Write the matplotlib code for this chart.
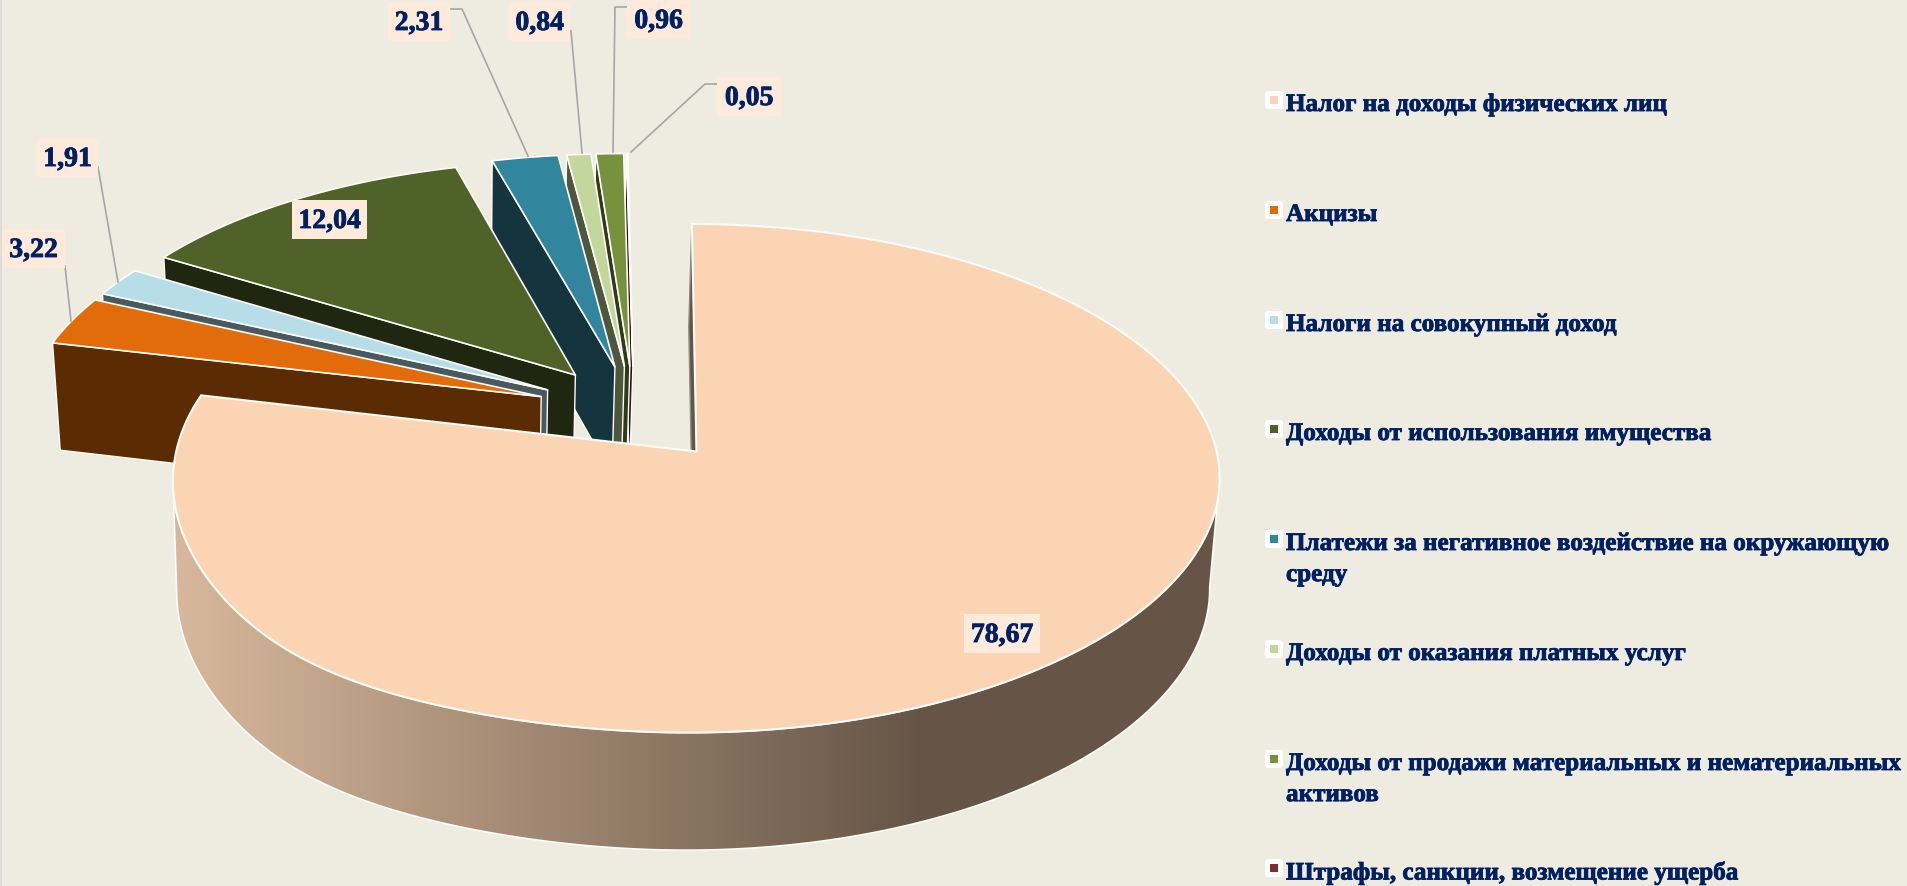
import numpy as np
import matplotlib
matplotlib.use('Agg')
import matplotlib.pyplot as plt
import matplotlib.patheffects as pe
from matplotlib.colors import to_rgb
from matplotlib.patches import Polygon, Rectangle, FancyBboxPatch

categories = [
    'Налог на доходы физических лиц',
    'Акцизы',
    'Налоги на совокупный доход',
    'Доходы от использования имущества',
    'Платежи за негативное воздействие на окружающую\nсреду',
    'Доходы от оказания платных услуг',
    'Доходы от продажи материальных и нематериальных\nактивов',
    'Штрафы, санкции, возмещение ущерба',
]
values = [78.67, 3.22, 1.91, 12.04, 2.31, 0.84, 0.96, 0.05]
value_labels = ['78,67', '3,22', '1,91', '12,04', '2,31', '0,84', '0,96', '0,05']
colors = ['#FBD4B4', '#E36C0A', '#B7DEE8', '#4F6228', '#31859C', '#C3D69B', '#76923C', '#7F2F2B']

# label boxes (left, top, right, bottom in pixels) and leader lines
label_boxes = [(964, 615, 1040, 654), (2, 230, 65, 269), (37, 139, 98, 178), (292, 201, 367, 240),
               (388, 3, 450, 42), (509, 3, 570, 42), (627, 1, 690, 40), (717, 78, 781, 117)]
leaders = [
    [(65, 267), (71, 322)],
    [(98, 168), (118, 283)],
    [(450, 10), (462, 10), (528, 157)],
    [(571, 32), (582, 154)],
    [(627, 8), (615, 8), (613, 153)],
    [(717, 85), (705, 85), (631, 153)],
]
legend_y = [101, 211, 321, 430, 540, 650, 760, 869]

# perspective of the pie plane, in pixels
CX, CY = 634.0, 415.6
A, B = 512.0, 243.7
K = 0.104
EXPLODE = 0.19
DEPTH0, DEPTH1 = 38.2, 68.1
BOTTOM_PIVOT = 456.0
NAVY = '#002060'
BG = '#EEEBE0'
EDGE = '#FDFCF8'


def project(theta, r, offset, bottom=False, small=True):
    # theta clockwise from 12 o'clock, r in pie radii
    x = offset[0] + r * np.sin(theta)
    y = offset[1] + r * np.cos(theta)
    den = 1 + K * y
    sx = CX + A * x / den
    sy = CY - B * y / den
    if small:
        sx = CX + (sx - CX) * 1.012 - 5.0 * y
        sy = sy - 3.0
    else:
        # the front of the big slice bulges to the lower left in the picture
        bulge = 10 + 26 * np.exp(-((x + 0.55) / 0.35) ** 2)
        sx = sx + 1.5 + 1.0 * y - bulge * np.where(y < 0, y, 0) ** 2
    if bottom:
        scale = 0.981 if small else 0.987
        sx = BOTTOM_PIVOT + (sx - BOTTOM_PIVOT) * scale
        sy = sy + DEPTH0 + DEPTH1 / den + (3.0 if small else 2.0)
    return np.column_stack([sx, sy])


def darker(color, f=0.4):
    return tuple(c * f for c in to_rgb(color))


fig = plt.figure(figsize=(19.07, 8.87), dpi=100, facecolor=BG)
ax = fig.add_axes([0, 0, 1, 1])
ax.set_xlim(0, 1907)
ax.set_ylim(887, 0)
ax.axis('off')
ax.add_patch(Rectangle((0, 0), 2, 887, fc='#DDDCD6', ec='none', zorder=0))

edges = np.radians(np.cumsum([0] + values) * 3.6)
mids = (edges[:-1] + edges[1:]) / 2
offsets = [(EXPLODE * np.sin(m), EXPLODE * np.cos(m)) for m in mids]
apex = np.array([0.0])

z = 2
# back slices first, the big one is on top of everything
for i in range(len(values) - 1, 0, -1):
    off = offsets[i]
    t0 = np.array([edges[i]])
    wall = np.vstack([project(apex, 0, off), project(t0, 1, off),
                      project(t0, 1, off, True), project(apex, 0, off, True)])
    ax.add_patch(Polygon(wall, fc=darker(colors[i]), ec=EDGE, lw=1.0, zorder=z, joinstyle='round'))
    z += 1
    arc = project(np.linspace(edges[i], edges[i + 1], 40), 1, off)
    top = np.vstack([project(apex, 0, off), arc])
    ax.add_patch(Polygon(top, fc=colors[i], ec=EDGE, lw=1.2, zorder=z, joinstyle='round'))
    z += 1

# big slice
off = offsets[0]
t = np.linspace(edges[0], edges[1], 400)
side0 = np.vstack([project(apex, 0, off, small=False), project(apex, 1, off, small=False),
                   project(apex, 1, off, True, small=False), project(apex, 0, off, True, small=False)])
ax.add_patch(Polygon(side0, fc=darker(colors[0]), ec='#8A8A86', lw=1.0, zorder=z))
z += 1
# outer wall runs between the left and right extremes of the top and bottom rims
top_arc = project(t, 1, off, small=False)
bot_arc = project(t, 1, off, True, small=False)
tr, tl = np.argmax(top_arc[:, 0]), np.argmin(top_arc[:, 0])
br, bl = np.argmax(bot_arc[:, 0]), np.argmin(bot_arc[:, 0])
outer = np.vstack([top_arc[tr:tl + 1], bot_arc[br:bl + 1][::-1]])
wall = Polygon(outer, fc='none', ec=EDGE, lw=1.2, zorder=z + 1)
ax.add_patch(wall)
# wall shading: light on the left, dark from about x=920
light = np.array(to_rgb('#D8B89C'))
dark = np.array(to_rgb('#665546'))
shade = np.linspace(0, 1, 256)[None, :, None]
grad = light[None, None, :] * (1 - shade) + dark[None, None, :] * shade
im = ax.imshow(grad, extent=(175, 922, 887, 0), aspect='auto', zorder=z)
im.set_clip_path(wall)
for x0, x1, c in [(100, 175, light), (922, 1300, dark)]:
    r = ax.add_patch(Rectangle((x0, 0), x1 - x0, 887, fc=c, ec='none', zorder=z))
    r.set_clip_path(wall)
ax.set_xlim(0, 1907)
ax.set_ylim(887, 0)
z += 2
top = np.vstack([project(apex, 0, off, small=False), top_arc])
ax.add_patch(Polygon(top, fc=colors[0], ec=EDGE, lw=1.5, zorder=z, joinstyle='miter'))
z += 1

# leader lines
for pts in leaders:
    pts = np.array(pts)
    ax.plot(pts[:, 0], pts[:, 1], color='#A6A6A6', lw=1.2, zorder=z)
z += 1

# data labels
text_kw = dict(family='Liberation Serif', weight='bold', color=NAVY,
               path_effects=[pe.withStroke(linewidth=0.6, foreground=NAVY)])
for box, lab in zip(label_boxes, value_labels):
    ax.add_patch(Rectangle((box[0], box[1]), box[2] - box[0], box[3] - box[1], fc='#FDEADA', ec='none', zorder=z))
    ax.text((box[0] + box[2]) / 2, (box[1] + box[3]) / 2 + 2, lab, ha='center', va='center',
            fontsize=20, zorder=z + 1, **text_kw)

# legend
for y, name, c in zip(legend_y, categories, colors):
    ax.add_patch(FancyBboxPatch((1267, y - 7), 14, 14, boxstyle='round,pad=2,rounding_size=3',
                                fc='white', ec='none', zorder=z))
    ax.add_patch(Rectangle((1270, y - 4), 8, 8, fc=c, ec='none', zorder=z + 1))
    ax.text(1286, y - 7, name, ha='left', va='top', fontsize=18.1, linespacing=1.45, zorder=z + 1, **text_kw)

fig.savefig('out.png', dpi=100, facecolor=BG)
